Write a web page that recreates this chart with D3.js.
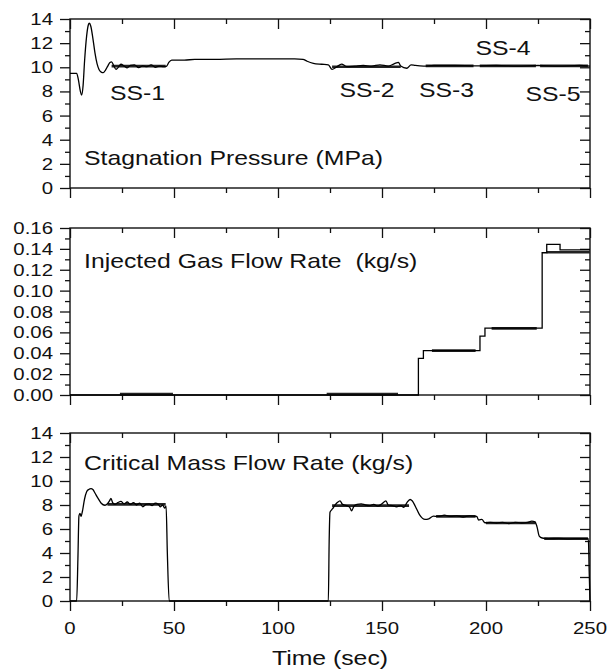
<!DOCTYPE html>
<html>
<head>
<meta charset="utf-8">
<script src="https://cdn.jsdelivr.net/npm/d3@7"></script>
<style>
  body { margin: 0; background: #fff; }
  svg { display: block; font-family: "Liberation Sans", Arial, Helvetica, sans-serif; }
</style>
</head>
<body>
<div class="svg-container"></div>
<script>
// time axis
const timeDomain = [0, 250];
const timeTicks = [0, 50, 100, 150, 200, 250];

// stagnation pressure (MPa) vs time (sec)
const pressure = [
  [0, 9.5], [3.2, 9.5], [4, 9.0], [5, 8.0], [5.6, 7.7], [6.3, 8.5], [7, 10.5], [8, 12.6],
  [8.8, 13.5], [9.3, 13.65], [10, 13.4], [11, 12.4], [12, 11.2], [13, 10.3], [14, 9.8],
  [15, 9.6], [16, 9.55], [17, 9.75], [18, 10.05], [19.2, 10.4], [20, 10.45], [21, 10.15],
  [22.1, 9.83], [23, 9.95], [24.5, 10.25], [26, 10.1], [27.5, 9.95], [29, 10.15], [31, 10.2],
  [33, 9.98], [35, 10.12], [37, 10.05], [39, 10.2], [41, 10.0], [43, 10.1], [45, 10.05],
  [46.5, 10.1], [47.5, 10.4], [48.9, 10.6], [55, 10.6], [60, 10.65], [70, 10.65], [80, 10.7],
  [90, 10.7], [100, 10.7], [108, 10.7], [112, 10.66], [114, 10.5], [117, 10.33], [121, 10.25],
  [124.2, 10.2], [126, 9.83], [128, 10.0], [130.6, 10.27], [133, 10.05], [137, 10.1],
  [141, 10.15], [145, 10.1], [149, 10.2], [153, 10.1], [156, 10.3], [157.9, 10.4], [159, 10.1],
  [161.9, 9.92], [164, 10.2], [166, 10.15], [170, 10.1], [175, 10.15], [185, 10.15],
  [195, 10.12], [205, 10.15], [215, 10.1], [225, 10.15], [235, 10.1], [245, 10.15], [250, 10.1]
];
const pressureSteady = [[20, 46, 10.1], [126, 159, 10.05], [171, 194, 10.12], [197, 224, 10.12], [226, 249, 10.12]];

// injected gas flow rate (kg/s)
const gasFlow = [
  [0, 0], [167.5, 0], [167.5, 0.035], [169.9, 0.035], [169.9, 0.0425], [197.1, 0.0425],
  [197.1, 0.0565], [199.5, 0.0565], [199.5, 0.064], [227, 0.064], [227, 0.1363],
  [229.2, 0.1363], [229.2, 0.1444], [235.6, 0.1444], [235.6, 0.139], [250, 0.139]
];
const gasSteady = [[24, 49.5, 0.0008], [123.4, 157.7, 0.0008], [174, 195, 0.0425], [202.7, 224.4, 0.0638], [229.2, 250, 0.1368]];

// critical mass flow rate (kg/s)
const massFlow = [
  [0, 0], [3.2, 0], [3.8, 3.5], [4.3, 7.1], [4.8, 7.3], [5.3, 7.05], [6, 7.5], [7, 8.5],
  [8, 9.1], [9, 9.3], [10.1, 9.37], [11, 9.3], [12, 9.0], [13.5, 8.55], [15, 8.15],
  [16.8, 7.98], [18, 8.1], [19, 8.35], [19.7, 8.54], [20.5, 8.2], [21.5, 8.05], [23, 8.2],
  [24.5, 8.3], [26, 8.1], [27.5, 8.25], [29, 8.05], [30.5, 8.2], [32, 8.0], [33.5, 8.15],
  [35, 7.85], [36.5, 8.05], [38, 8.1], [39.5, 7.95], [41, 8.15], [42.5, 8.05], [43.5, 7.85],
  [44.5, 8.0], [45.5, 7.75], [46.2, 7.9], [46.8, 4.0], [47.7, 0], [124.2, 0], [124.6, 5.0],
  [125, 7.4], [125.8, 7.6], [126.5, 7.75], [127.4, 7.99], [128.5, 8.2], [129.8, 8.35],
  [131, 8.05], [133, 7.95], [134.5, 7.8], [135.4, 7.52], [136.5, 7.9], [138, 8.05], [140, 8.1],
  [142, 8.0], [144, 7.95], [146, 8.05], [148, 7.9], [150, 8.1], [151.9, 8.35], [153, 8.0],
  [155, 7.95], [157, 7.85], [159, 7.95], [160.5, 7.8], [162, 8.2], [163.5, 8.46], [164.5, 8.35],
  [166, 7.9], [168, 7.2], [170.7, 6.8], [172.5, 6.85], [174.7, 7.07], [177, 7.05], [180, 7.15],
  [183, 7.05], [186, 7.1], [189, 7.0], [192, 7.1], [195.5, 7.05], [196.5, 6.75], [198, 6.8],
  [199.5, 6.52], [202, 6.55], [205, 6.5], [208, 6.55], [211, 6.45], [214, 6.55], [217, 6.5],
  [220, 6.55], [222, 6.65], [223.6, 6.6], [224.5, 6.2], [225.6, 5.41], [227, 5.25], [230, 5.2],
  [235, 5.22], [240, 5.18], [245, 5.2], [249.2, 5.2], [249.6, 2.5], [250, 0]
];
const massSteady = [[18, 46, 8.05], [126, 163, 7.95], [176, 195, 7.05], [200, 224, 6.5], [228, 249, 5.2]];

// steady state labels (placed in pressure data coordinates)
const ssNames = ['SS-1', 'SS-2', 'SS-3', 'SS-4', 'SS-5'];
const ssTime = [32.5, 142.8, 181, 208.2, 232.2];
const ssValue = [7.3, 7.55, 7.55, 11.0, 7.2];

// set up dimensions
const width = 608;
const height = 672;
const left = 70, right = 590;

const x = d3.scaleLinear().domain(timeDomain).range([left, right]);

const svg = d3.select('.svg-container')
  .append('svg')
  .attr('width', width)
  .attr('height', height);

// the figure's text is stretched horizontally, so scale it a bit in x
function addText(g, tx, ty, str, size, anchor) {
  const stretch = size >= 20 ? 1.24 : 1.2;
  return g.append('text')
    .attr('transform', `translate(${tx},${ty}) scale(${stretch},1)`)
    .attr('text-anchor', anchor || 'start')
    .style('font-size', size + 'px')
    .attr('fill', '#111')
    .text(str);
}

const panels = [
  { top: 19, bottom: 188, max: 14, major: 2, fmt: d3.format('d'), series: pressure, steady: pressureSteady,
    curve: d3.curveMonotoneX, title: 'Stagnation Pressure (MPa)', titleY: 146 },
  { top: 228, bottom: 395, max: 0.16, major: 0.02, fmt: d3.format('.2f'), series: gasFlow, steady: gasSteady,
    curve: d3.curveLinear, title: 'Injected Gas Flow Rate \u00a0(kg/s)', titleY: 40 },
  { top: 433, bottom: 601, max: 14, major: 2, fmt: d3.format('d'), series: massFlow, steady: massSteady,
    curve: d3.curveMonotoneX, title: 'Critical Mass Flow Rate (kg/s)', titleY: 37 }
];

panels.forEach((p, i) => {
  const y = d3.scaleLinear().domain([0, p.max]).range([p.bottom, p.top]);
  const n = Math.round(p.max / p.major);
  const majorY = d3.range(0, n + 1).map(k => +(k * p.major).toFixed(4));
  const minorY = d3.range(0, n).map(k => +((k + 0.5) * p.major).toFixed(4));
  const minorX = [25, 75, 125, 175, 225];

  const g = svg.append('g');

  // axes: left/bottom ticks outward, top/right ticks inward
  const axes = [
    [d3.axisLeft(y).tickValues(majorY).tickSize(10), `translate(${left},0)`],
    [d3.axisLeft(y).tickValues(minorY).tickSize(5), `translate(${left},0)`],
    [d3.axisRight(y).tickValues(majorY).tickSize(-10), `translate(${right},0)`],
    [d3.axisRight(y).tickValues(minorY).tickSize(-5), `translate(${right},0)`],
    [d3.axisBottom(x).tickValues(timeTicks).tickSize(10), `translate(0,${p.bottom})`],
    [d3.axisBottom(x).tickValues(minorX).tickSize(5), `translate(0,${p.bottom})`],
    [d3.axisTop(x).tickValues(timeTicks).tickSize(-10), `translate(0,${p.top})`],
    [d3.axisTop(x).tickValues(minorX).tickSize(-5), `translate(0,${p.top})`]
  ];
  axes.forEach(([ax, tr]) => {
    const a = g.append('g').attr('transform', tr).call(ax.tickFormat(''));
    a.select('.domain').remove();
    a.selectAll('line').attr('stroke', '#111').attr('stroke-width', 1.3);
  });

  // frame
  g.append('rect')
    .attr('x', left).attr('y', p.top)
    .attr('width', right - left).attr('height', p.bottom - p.top)
    .attr('fill', 'none').attr('stroke', '#111').attr('stroke-width', 1.4);

  // y tick labels
  majorY.forEach(v => addText(g, left - 17, y(v) + 6, p.fmt(v), 17, 'end'));

  // steady-state averages (thicker)
  g.selectAll('.ss')
    .data(p.steady)
    .enter()
    .append('line')
    .attr('x1', d => x(d[0])).attr('x2', d => x(d[1]))
    .attr('y1', d => y(d[2])).attr('y2', d => y(d[2]))
    .attr('stroke', '#222').attr('stroke-width', 2.6);

  // measured trace
  const line = d3.line().x(d => x(d[0])).y(d => y(d[1])).curve(p.curve);
  g.append('path')
    .datum(p.series)
    .attr('d', line)
    .attr('fill', 'none')
    .attr('stroke', '#000')
    .attr('stroke-width', 1.3);

  // panel title
  addText(g, 84, p.top + p.titleY, p.title, 20);

  if (i === 0) {
    ssNames.forEach((s, k) => addText(g, x(ssTime[k]), y(ssValue[k]), s, 20, 'middle'));
  }

  if (i === panels.length - 1) {
    timeTicks.forEach(t => addText(g, x(t), p.bottom + 33, t, 17, 'middle'));
    addText(g, (left + right) / 2, p.bottom + 64, 'Time (sec)', 20, 'middle');
  }
});
</script>
</body>
</html>
